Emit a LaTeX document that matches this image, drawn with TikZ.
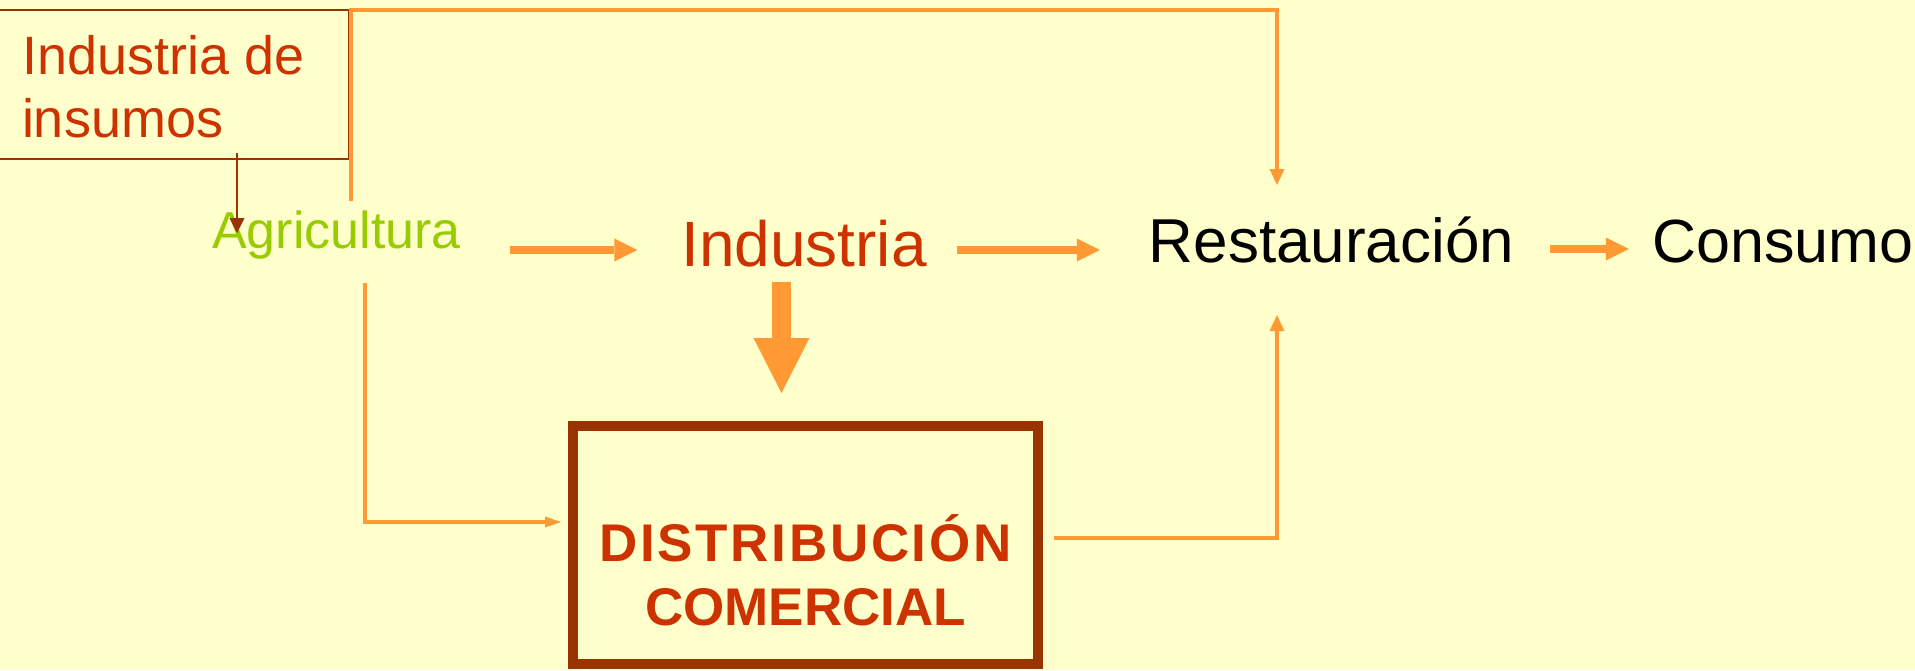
\documentclass[tikz,border=0pt]{standalone}
\usepackage{fontspec}
\setmainfont{Liberation Sans}
\usetikzlibrary{arrows.meta}
\definecolor{bg}{HTML}{FFFFCC}
\definecolor{orng}{HTML}{FF9933}
\definecolor{brwn}{HTML}{993300}
\definecolor{redt}{HTML}{CC3300}
\definecolor{grn}{HTML}{99CC00}
\begin{document}
\begin{tikzpicture}[x=1pt,y=-1pt,
  lbl/.style={inner sep=0pt, outer sep=0pt, anchor=base},
  fat/.style={orng, line width=8pt, -{Triangle[length=23pt,width=23pt,line width=0pt]}},
  thinarrow/.style={orng, line width=4.5pt, -{Triangle[length=16pt,width=15pt,line width=0pt]}},
  bigarrow/.style={orng, line width=19pt, -{Triangle[length=55pt,width=56pt,line width=0pt]}},
  brownarrow/.style={brwn, line width=1.5pt, -{Triangle[length=15pt,width=15pt,line width=0pt]}},
  boxnode/.style={draw=brwn, outer sep=0pt, inner sep=0pt, text=redt}
]
\useasboundingbox (0,0) rectangle (1915,670);
\fill[bg] (0,0) rectangle (1915,670);

\node[boxnode, line width=2pt, minimum width=351pt, minimum height=149pt,
      font=\fontsize{54}{63}\selectfont] (ins) at (173.5,84.5)
      {\raisebox{10.5pt}[0pt][0pt]{\parbox[t]{303pt}{\raggedright Industria de\\insumos}}};
\node[lbl, text=grn, font=\fontsize{52}{62}\selectfont] (agri) at (336.5,248) {Agricultura};
\node[lbl, text=redt, font=\fontsize{64}{76}\selectfont] (ind) at (804,266) {Industria};
\node[lbl, text=black, font=\fontsize{62}{74}\selectfont] (rest) at (1331.5,262) {Restauración};
\node[lbl, text=black, font=\fontsize{61}{73}\selectfont] (cons) at (1783,262) {Consumo};
\node[boxnode, line width=10pt, minimum width=465pt, minimum height=238pt,
      font=\bfseries\fontsize{53}{64}\selectfont] (dist) at (805.5,545)
      {\raisebox{-16pt}[0pt][0pt]{\parbox[t]{440pt}{\centering {\addfontfeatures{LetterSpace=5}DISTRIBUCIÓN}\\COMERCIAL}}};

\draw[fat, shorten <=49pt, shorten >=44pt] ([yshift=-2pt]agri.base east) -- ([yshift=16pt]ind.base west);
\draw[fat, shorten <=30pt, shorten >=49pt] ([yshift=16pt]ind.base east) -- ([yshift=12pt]rest.base west);
\draw[fat, shorten <=36pt, shorten >=23.5pt] ([yshift=13pt]rest.base east) -- ([yshift=13pt]cons.base west);
\draw[bigarrow] ([xshift=-22.5pt,yshift=-16pt]ind.base) -- ([xshift=-24pt,yshift=33pt]dist.north);

\draw[thinarrow] ([xshift=14.5pt,yshift=47pt]agri.base) -- ++(0,-191) -| ([xshift=-54.5pt,yshift=77pt]rest.base);
\draw[orng, line width=4.5pt, -{Triangle[length=16pt,width=11pt,line width=0pt]}, shorten >=12pt]
      ([xshift=28.5pt,yshift=-35pt]agri.base) |- ([yshift=23pt]dist.west);
\draw[thinarrow] ([xshift=16pt,yshift=7pt]dist.east) -| ([xshift=-54.5pt,yshift=-53pt]rest.base);
\draw[brownarrow] ([xshift=63.5pt,yshift=6pt]ins.south) -- ++(0,80);
\end{tikzpicture}
\end{document}
